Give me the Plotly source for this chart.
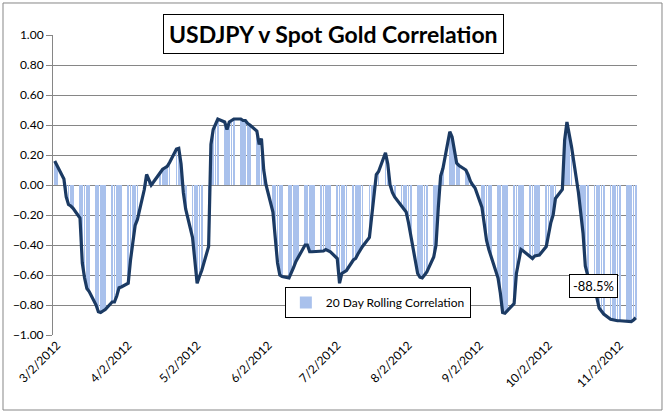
import pandas as pd
import plotly.graph_objects as go

# Trading days (weekdays) from 3/1/2012 to 11/9/2012
dates = pd.bdate_range("2012-03-01", "2012-11-09")

corr = [
    0.16, 0.13,
    0.04, -0.08, -0.13, -0.14, -0.155,
    -0.22, -0.52, -0.62, -0.69, -0.71,
    -0.80, -0.845, -0.85, -0.84, -0.83,
    -0.78, -0.78, -0.74, -0.685, -0.68,
    -0.655, -0.50, -0.38, -0.27, -0.23,
    -0.03, 0.07, 0.035, 0.0, 0.02,
    0.09, 0.105, 0.115, 0.125, 0.15,
    0.24, 0.245, 0.14, -0.05, -0.16,
    -0.35, -0.52, -0.655, -0.61, -0.57,
    -0.41, 0.27, 0.37, 0.41, 0.44,
    0.42, 0.37, 0.42, 0.43, 0.44,
    0.44, 0.43, 0.43, 0.41, 0.40,
    0.36, 0.27, 0.31, 0.10, 0.0,
    -0.18, -0.34, -0.52, -0.60, -0.61,
    -0.62, -0.59, -0.55, -0.51, -0.48,
    -0.40, -0.40, -0.445, -0.445, -0.445,
    -0.445, -0.44, -0.43, -0.44, -0.445,
    -0.49, -0.655, -0.59, -0.58, -0.57,
    -0.50, -0.49, -0.46, -0.43, -0.41,
    -0.35, -0.22, -0.05, 0.07, 0.09,
    0.215, 0.14, 0.0, -0.05, -0.08,
    -0.14, -0.16, -0.18, -0.25, -0.33,
    -0.59, -0.615, -0.62, -0.60, -0.58,
    -0.48, -0.40, -0.15, 0.06, 0.11,
    0.355, 0.32, 0.24, 0.145, 0.13,
    0.10, 0.067, 0.025, 0.0, -0.02,
    -0.15, -0.28, -0.37, -0.43, -0.48,
    -0.62, -0.72, -0.85, -0.855, -0.84,
    -0.79, -0.59, -0.50, -0.43, -0.44,
    -0.48, -0.49, -0.473, -0.47, -0.467,
    -0.41, -0.32, -0.25, -0.20, -0.09,
    -0.03, 0.30, 0.42, 0.34, 0.255,
    -0.05, -0.19, -0.32, -0.54, -0.60,
    -0.71, -0.75, -0.82, -0.845, -0.86,
    -0.895, -0.90, -0.90, -0.905, -0.905,
    -0.91, -0.91, -0.91, -0.90, -0.885,
]

tick_dates = ["2012-03-02", "2012-04-02", "2012-05-02", "2012-06-02", "2012-07-02",
              "2012-08-02", "2012-09-02", "2012-10-02", "2012-11-02"]
tick_labels = ["3/2/2012", "4/2/2012", "5/2/2012", "6/2/2012", "7/2/2012",
               "8/2/2012", "9/2/2012", "10/2/2012", "11/2/2012"]
y_ticks = [-1.0, -0.8, -0.6, -0.4, -0.2, 0.0, 0.2, 0.4, 0.6, 0.8, 1.0]
title_text = "USDJPY v Spot Gold Correlation"
series_name = "20 Day Rolling Correlation"
last_label = "-88.5%"

DAY_MS = 86400000

fig = go.Figure()
fig.add_trace(go.Bar(
    x=dates, y=corr, name=series_name,
    marker=dict(color="#a9c1ec", line=dict(width=0)),
    width=0.35 * DAY_MS, showlegend=True,
))
fig.add_trace(go.Scatter(
    x=dates, y=corr, mode="lines", showlegend=False,
    line=dict(color="#1b3a63", width=3.2, shape="linear"),
))

font_fam = "Lato, 'Liberation Sans', sans-serif"

fig.update_layout(
    width=666, height=415,
    margin=dict(l=53, r=29, t=35, b=80),
    paper_bgcolor="white", plot_bgcolor="white",
    bargap=0.2,
    font=dict(family=font_fam, size=12, color="#000000"),
    legend=dict(
        x=0.397, y=0.16, xanchor="left", yanchor="top",
        bgcolor="white", bordercolor="#000000", borderwidth=1,
        font=dict(size=12, family=font_fam),
        itemwidth=30, tracegroupgap=0,
    ),
    xaxis=dict(
        type="date",
        range=["2012-02-29 06:00", "2012-11-09 12:00"],
        tickvals=tick_dates, ticktext=tick_labels,
        tickangle=-45, ticks="", showgrid=False, zeroline=False,
        showline=False,
        tickfont=dict(size=12, family=font_fam),
    ),
    yaxis=dict(
        range=[-1, 1], tickvals=y_ticks, tickformat=".2f",
        showgrid=True, gridcolor="#868686", gridwidth=1,
        zeroline=False, showline=True, linecolor="#868686", linewidth=1,
        ticks="outside", ticklen=6, tickcolor="#868686",
        tickfont=dict(size=12, family=font_fam),
    ),
    annotations=[
        dict(text="<b>" + title_text + "</b>", xref="paper", yref="paper",
             x=0.48, y=1.003, xanchor="center", yanchor="middle", showarrow=False,
             font=dict(size=23, family="Lato, sans-serif", color="#000000"),
             bordercolor="#000000", borderwidth=1, borderpad=5, bgcolor="white"),
        dict(text=last_label, xref="paper", yref="paper",
             x=0.925, y=0.163, xanchor="center", yanchor="middle", showarrow=False,
             font=dict(size=13, family=font_fam, color="#000000"),
             bordercolor="#000000", borderwidth=1, borderpad=3, bgcolor="white"),
    ],
    shapes=[
        dict(type="rect", xref="paper", yref="paper",
             x0=-0.0856, x1=1.0428, y0=-0.25, y1=1.1067,
             line=dict(color="#878787", width=1), fillcolor="rgba(0,0,0,0)", layer="below"),
    ],
)

fig.write_html("out.html", config={"displayModeBar": False},
               post_script="document.body.style.margin='0';document.body.style.overflow='hidden';")
